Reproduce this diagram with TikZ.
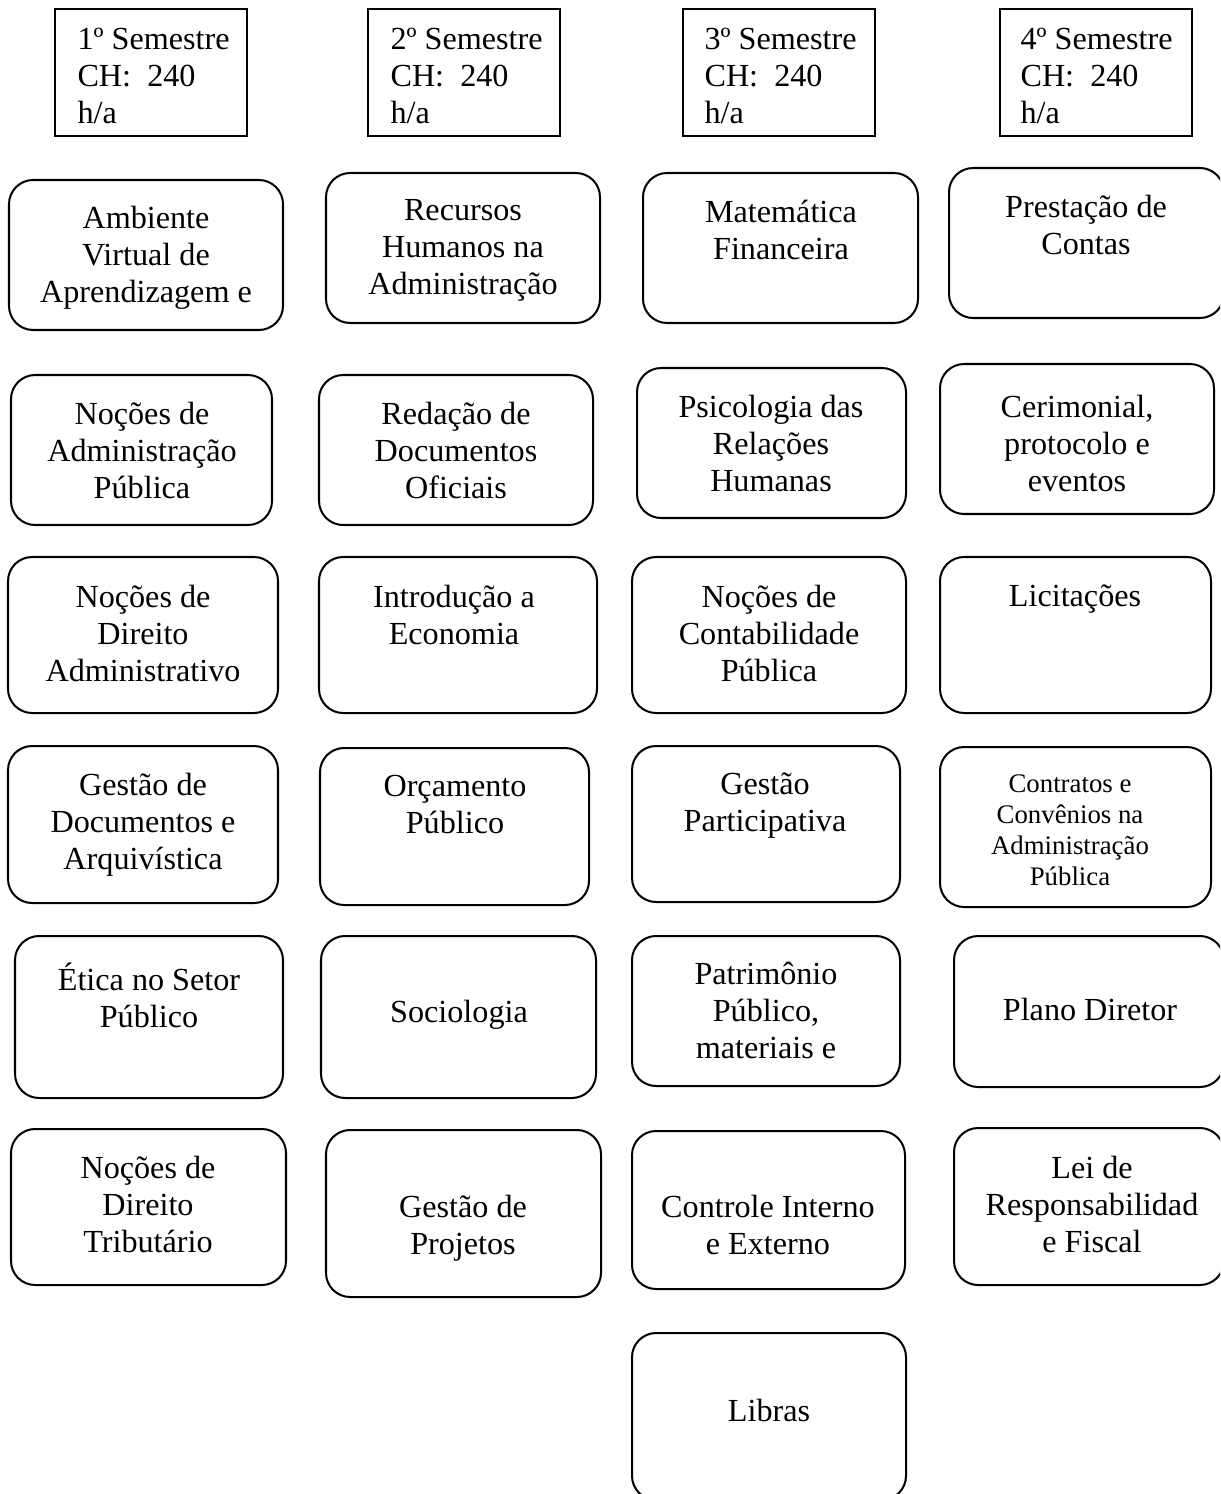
\documentclass[tikz,border=0pt]{standalone}
\usepackage{fontspec}
\setmainfont{Liberation Serif}
\tikzset{
    semestre/.style={draw, line width=0.75pt},
    caixa/.style={draw, line width=0.75pt, rounded corners=9pt},
    txt/.style={anchor=north, align=center, inner sep=0pt, yshift=-1.2pt, font=\fontsize{12}{13.8}\selectfont},
    txtsmall/.style={txt, font=\fontsize{10}{11.6}\selectfont},
    cab/.style={anchor=north west, align=left, inner sep=0pt, yshift=-1.4pt, font=\fontsize{12}{13.8}\selectfont},
}
\begin{document}
\begin{tikzpicture}[x=0.373pt, y=-0.373pt]
\useasboundingbox (0,0) rectangle (1220,1494);
\clip (0,0) rectangle (1220,1494);

% semestres
\draw[semestre] (55,9) rectangle (247,136);
\draw[semestre] (368,9) rectangle (560,136);
\draw[semestre] (683,9) rectangle (875,136);
\draw[semestre] (1000,9) rectangle (1192,136);
\node[cab] (sem1) at (77,24) {1º Semestre\\CH:~~240\\h/a};
\node[cab] (sem2) at (390,24) {2º Semestre\\CH:~~240\\h/a};
\node[cab] (sem3) at (704,24) {3º Semestre\\CH:~~240\\h/a};
\node[cab] (sem4) at (1020,24) {4º Semestre\\CH:~~240\\h/a};

% linha 1
\draw[caixa] (9,180) rectangle (283,330);
\draw[caixa] (326,173) rectangle (600,323);
\draw[caixa] (643,173) rectangle (918,323);
\draw[caixa] (949,168) rectangle (1224,318);
\node[txt] (ambiente) at (146,202) {Ambiente\\Virtual de\\Aprendizagem e};
\node[txt] (recursos) at (463,196) {Recursos\\Humanos na\\Administração};
\node[txt] (matematica) at (781,196) {Matemática\\Financeira};
\node[txt] (prestacao) at (1086,191) {Prestação de\\Contas};

% linha 2
\draw[caixa] (11,375) rectangle (272,525);
\draw[caixa] (319,375) rectangle (593,525);
\draw[caixa] (637,368) rectangle (906,518);
\draw[caixa] (940,364) rectangle (1214,514);
\node[txt] (nocoesap) at (142,398) {Noções de\\Administração\\Pública};
\node[txt] (redacao) at (456,398) {Redação de\\Documentos\\Oficiais};
\node[txt] (psicologia) at (771,391) {Psicologia das\\Relações\\Humanas};
\node[txt] (cerimonial) at (1077,391) {Cerimonial,\\protocolo e\\eventos};

% linha 3
\draw[caixa] (8,557) rectangle (278,713);
\draw[caixa] (319,557) rectangle (597,713);
\draw[caixa] (632,557) rectangle (906,713);
\draw[caixa] (940,557) rectangle (1211,713);
\node[txt] (nocoesda) at (143,581) {Noções de\\Direito\\Administrativo};
\node[txt] (introducao) at (454,581) {Introdução a\\Economia};
\node[txt] (contabil) at (769,581) {Noções de\\Contabilidade\\Pública};
\node[txt] (licitacoes) at (1075,581) {Licitações};

% linha 4
\draw[caixa] (8,746) rectangle (278,903);
\draw[caixa] (320,748) rectangle (589,905);
\draw[caixa] (632,746) rectangle (900,902);
\draw[caixa] (940,747) rectangle (1211,907);
\node[txt] (gestaodoc) at (143,769) {Gestão de\\Documentos e\\Arquivística};
\node[txt] (orcamento) at (455,771) {Orçamento\\Público};
\node[txt] (participativa) at (765,769) {Gestão\\Participativa};
\node[txtsmall] (contratos) at (1070,771) {Contratos e\\Convênios na\\Administração\\Pública};

% linha 5
\draw[caixa] (15,936) rectangle (283,1098);
\draw[caixa] (321,936) rectangle (596,1098);
\draw[caixa] (632,936) rectangle (900,1086);
\draw[caixa] (954,936) rectangle (1224,1087);
\node[txt] (etica) at (149,959) {Ética no Setor\\Público};
\node[txt] (sociologia) at (459,996) {Sociologia};
\node[txt] (patrimonio) at (766,958) {Patrimônio\\Público,\\materiais e};
\node[txt] (plano) at (1090,994) {Plano Diretor};

% linha 6
\draw[caixa] (11,1129) rectangle (286,1285);
\draw[caixa] (326,1130) rectangle (601,1297);
\draw[caixa] (632,1131) rectangle (905,1289);
\draw[caixa] (954,1128) rectangle (1224,1285);
\node[txt] (tributario) at (148,1152) {Noções de\\Direito\\Tributário};
\node[txt] (projetos) at (463,1191) {Gestão de\\Projetos};
\node[txt] (controle) at (768,1191) {Controle Interno\\e Externo};
\node[txt] (lei) at (1092,1152) {Lei de\\Responsabilidad\\e Fiscal};

% linha 7
\draw[caixa] (632,1333) rectangle (906,1500);
\node[txt] (libras) at (769,1395) {Libras};
\end{tikzpicture}
\end{document}
